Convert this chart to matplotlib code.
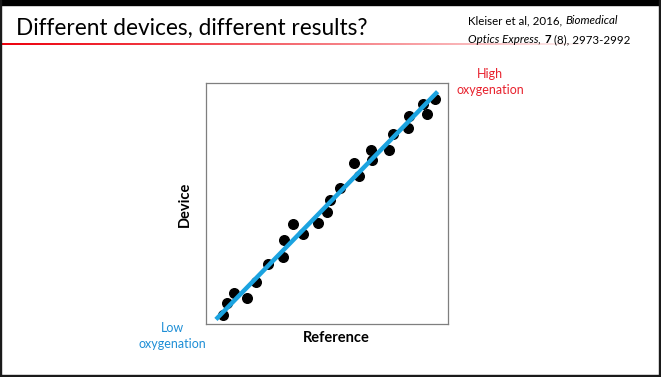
import numpy as np
import matplotlib.pyplot as plt
from matplotlib.patches import Rectangle

# scatter values (arbitrary 0-100 units)
ref_vals = [7.1, 8.8, 11.6, 17.1, 20.7, 25.5, 31.7, 32.4, 35.8, 40.0, 46.2, 49.9, 51.2,
            55.4, 61.2, 63.2, 68.2, 68.5, 75.5, 77.1, 83.4, 84.0, 89.5, 91.2, 94.7]
dev_vals = [3.7, 8.8, 12.7, 10.7, 17.3, 24.9, 27.9, 34.9, 41.4, 37.2, 42.0, 46.6, 51.5,
            56.6, 66.7, 61.5, 72.3, 68.0, 72.2, 78.7, 81.2, 86.4, 91.2, 87.0, 93.3]
fit_x = [4.1, 95.7]
fit_y = [1.9, 96.4]

title = 'Different devices, different results?'
cite_line1 = [('Kleiser et al, 2016, ', 'normal', 'normal'), ('Biomedical', 'italic', 'normal')]
cite_line2 = [('Optics Express', 'italic', 'normal'), (', ', 'normal', 'normal'),
              ('7', 'normal', 'bold'), (' (8), 2973-2992', 'normal', 'normal')]

W, H = 661, 377

fig = plt.figure(figsize=(W / 100, H / 100), dpi=100)
fig.patch.set_facecolor('white')

# overlay in pixel coordinates for slide decorations
bg = fig.add_axes([0, 0, 1, 1])
bg.set_xlim(0, W)
bg.set_ylim(H, 0)
bg.axis('off')


def rich_text(x, y, parts, size):
    # place text runs one after another, measuring each run
    renderer = fig.canvas.get_renderer()
    for s, style, weight in parts:
        t = bg.text(x, y, s, fontsize=size, family='Lato', style=style,
                    fontweight=weight, va='baseline')
        bb = t.get_window_extent(renderer=renderer)
        x += bb.width


# red underline fading to white
grad = np.ones((1, 256, 4))
grad[0, :, 0] = 0.93
grad[0, :, 1] = 0.0
grad[0, :, 2] = 0.05
grad[0, :, 3] = np.linspace(1, 0, 256) ** 0.8
bg.imshow(grad, extent=(0, 590, 45, 43.5), aspect='auto', interpolation='bilinear')

# slide frame
bg.add_patch(Rectangle((0, 0), W, 5, color='black'))
bg.add_patch(Rectangle((0, 0), 1.2, H, color='#1a1a1a'))
bg.add_patch(Rectangle((W - 2, 0), 2, H, color='#1a1a1a'))
bg.add_patch(Rectangle((0, H - 2), W, 2, color='#1a1a1a'))

bg.text(16, 35, title, fontsize=16.3, family='Lato', color='black', va='baseline')
rich_text(468, 24, cite_line1, 8.3)
rich_text(468, 43, cite_line2, 8.3)

bg.text(490, 82, 'High\noxygenation', fontsize=9, family='Lato', color='#e8222e',
        ha='center', va='center', linespacing=1.3)
bg.text(172, 336, 'Low\noxygenation', fontsize=9, family='Lato', color='#1f8fd6',
        ha='center', va='center', linespacing=1.3)
bg.text(336, 338, 'Reference', fontsize=10.5, family='Lato', fontweight='bold',
        ha='center', va='center')
bg.text(185, 204, 'Device', fontsize=10.5, family='Lato', fontweight='bold',
        ha='center', va='center', rotation=90)

# the scatter plot box: pixels 206..448 horizontally, 83..324 vertically
ax = fig.add_axes([206 / W, 1 - 324 / H, 242 / W, 241 / H])
ax.scatter(ref_vals, dev_vals, s=48, color='black', zorder=2)
ax.plot(fit_x, fit_y, color='#1ba3e0', lw=3.2, solid_capstyle='butt', zorder=3)
ax.set_xlim(0, 100)
ax.set_ylim(0, 100)
ax.set_xticks([])
ax.set_yticks([])
for sp in ax.spines.values():
    sp.set_color('#7f7f7f')
    sp.set_linewidth(0.9)

fig.savefig('out.png', dpi=100)
